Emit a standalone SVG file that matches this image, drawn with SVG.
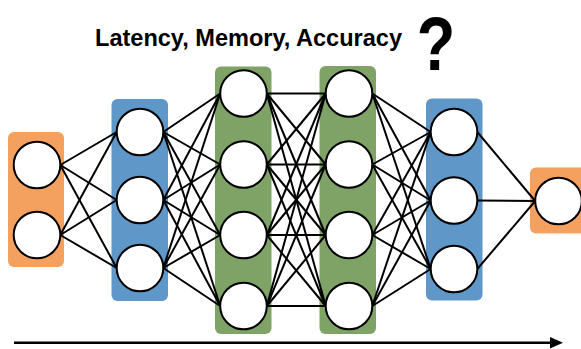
<svg xmlns="http://www.w3.org/2000/svg" width="581" height="349" viewBox="0 0 581 349">
<style>
.or{fill:#F4A15F}
.bl{fill:#5E97C8}
.gr{fill:#7FA366}
.n{fill:#fff;stroke:#000;stroke-width:2}
.e line{stroke:#000;stroke-width:2}
.t{font-family:"Liberation Sans",Arial,sans-serif;font-weight:bold;fill:#000}
</style>
<rect width="581" height="349" fill="#fff"/>
<text class="t" x="95" y="46" font-size="23" textLength="307" lengthAdjust="spacingAndGlyphs">Latency, Memory, Accuracy</text>
<text class="t" font-size="76" text-anchor="middle" transform="translate(436,70) scale(0.83,1)">?</text>
<g id="layer-bg">
<rect class="or" x="8" y="132" width="56" height="135" rx="6"/>
<rect class="bl" x="111.5" y="99" width="56.5" height="202" rx="6"/>
<rect class="gr" x="215" y="66.5" width="56.5" height="267.5" rx="6"/>
<rect class="gr" x="319.5" y="66" width="56.5" height="268" rx="6"/>
<rect class="bl" x="426" y="98.5" width="56.5" height="202" rx="6"/>
<rect class="or" x="530" y="167.5" width="60" height="66" rx="6"/>
</g>
<g id="connectors" class="e">
<line x1="60.3" y1="165" x2="116.7" y2="132"/>
<line x1="60.3" y1="165" x2="116.7" y2="200"/>
<line x1="60.3" y1="165" x2="116.7" y2="268"/>
<line x1="60.3" y1="235" x2="116.7" y2="132"/>
<line x1="60.3" y1="235" x2="116.7" y2="200"/>
<line x1="60.3" y1="235" x2="116.7" y2="268"/>
<line x1="163.3" y1="132" x2="220.2" y2="93.5"/>
<line x1="163.3" y1="132" x2="220.2" y2="164.5"/>
<line x1="163.3" y1="132" x2="220.2" y2="235"/>
<line x1="163.3" y1="132" x2="220.2" y2="306"/>
<line x1="163.3" y1="200" x2="220.2" y2="93.5"/>
<line x1="163.3" y1="200" x2="220.2" y2="164.5"/>
<line x1="163.3" y1="200" x2="220.2" y2="235"/>
<line x1="163.3" y1="200" x2="220.2" y2="306"/>
<line x1="163.3" y1="268" x2="220.2" y2="93.5"/>
<line x1="163.3" y1="268" x2="220.2" y2="164.5"/>
<line x1="163.3" y1="268" x2="220.2" y2="235"/>
<line x1="163.3" y1="268" x2="220.2" y2="306"/>
<line x1="266.8" y1="93.5" x2="325.7" y2="93.5"/>
<line x1="266.8" y1="93.5" x2="325.7" y2="164.5"/>
<line x1="266.8" y1="93.5" x2="325.7" y2="235"/>
<line x1="266.8" y1="93.5" x2="325.7" y2="306"/>
<line x1="266.8" y1="164.5" x2="325.7" y2="93.5"/>
<line x1="266.8" y1="164.5" x2="325.7" y2="164.5"/>
<line x1="266.8" y1="164.5" x2="325.7" y2="235"/>
<line x1="266.8" y1="164.5" x2="325.7" y2="306"/>
<line x1="266.8" y1="235" x2="325.7" y2="93.5"/>
<line x1="266.8" y1="235" x2="325.7" y2="164.5"/>
<line x1="266.8" y1="235" x2="325.7" y2="235"/>
<line x1="266.8" y1="235" x2="325.7" y2="306"/>
<line x1="266.8" y1="306" x2="325.7" y2="93.5"/>
<line x1="266.8" y1="306" x2="325.7" y2="164.5"/>
<line x1="266.8" y1="306" x2="325.7" y2="235"/>
<line x1="266.8" y1="306" x2="325.7" y2="306"/>
<line x1="372.3" y1="93.5" x2="430.7" y2="132"/>
<line x1="372.3" y1="93.5" x2="430.7" y2="200.5"/>
<line x1="372.3" y1="93.5" x2="430.7" y2="269"/>
<line x1="372.3" y1="164.5" x2="430.7" y2="132"/>
<line x1="372.3" y1="164.5" x2="430.7" y2="200.5"/>
<line x1="372.3" y1="164.5" x2="430.7" y2="269"/>
<line x1="372.3" y1="235" x2="430.7" y2="132"/>
<line x1="372.3" y1="235" x2="430.7" y2="200.5"/>
<line x1="372.3" y1="235" x2="430.7" y2="269"/>
<line x1="372.3" y1="306" x2="430.7" y2="132"/>
<line x1="372.3" y1="306" x2="430.7" y2="200.5"/>
<line x1="372.3" y1="306" x2="430.7" y2="269"/>
<line x1="477.3" y1="132" x2="535.2" y2="201"/>
<line x1="477.3" y1="200.5" x2="535.2" y2="201"/>
<line x1="477.3" y1="269" x2="535.2" y2="201"/>
</g>
<g id="input-layer">
<circle class="n" cx="37" cy="165" r="23.3"/>
<circle class="n" cx="37" cy="235" r="23.3"/>
</g>
<g id="hidden-layer-1">
<circle class="n" cx="140" cy="132" r="23.3"/>
<circle class="n" cx="140" cy="200" r="23.3"/>
<circle class="n" cx="140" cy="268" r="23.3"/>
</g>
<g id="hidden-layer-2">
<circle class="n" cx="243.5" cy="93.5" r="23.3"/>
<circle class="n" cx="243.5" cy="164.5" r="23.3"/>
<circle class="n" cx="243.5" cy="235" r="23.3"/>
<circle class="n" cx="243.5" cy="306" r="23.3"/>
</g>
<g id="hidden-layer-3">
<circle class="n" cx="349" cy="93.5" r="23.3"/>
<circle class="n" cx="349" cy="164.5" r="23.3"/>
<circle class="n" cx="349" cy="235" r="23.3"/>
<circle class="n" cx="349" cy="306" r="23.3"/>
</g>
<g id="hidden-layer-4">
<circle class="n" cx="454" cy="132" r="23.3"/>
<circle class="n" cx="454" cy="200.5" r="23.3"/>
<circle class="n" cx="454" cy="269" r="23.3"/>
</g>
<g id="output-layer">
<circle class="n" cx="558.5" cy="201" r="23.3"/>
</g>
<g id="axis">
<line x1="14" y1="342.7" x2="551" y2="342.7" stroke="#000" stroke-width="2.5"/>
<polygon points="550,337 563,342.7 550,348.4" fill="#000"/>
</g>
</svg>
